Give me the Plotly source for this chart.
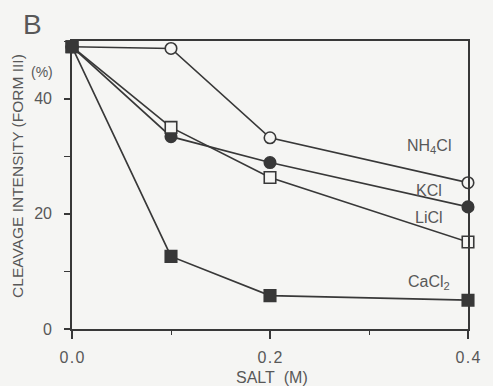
import plotly.graph_objects as go

salt = [0.0, 0.1, 0.2, 0.4]
nh4cl = [49.0, 48.7, 33.2, 25.4]
kcl = [49.0, 33.4, 28.9, 21.2]
licl = [49.0, 35.0, 26.3, 15.1]
cacl2 = [49.0, 12.6, 5.8, 5.0]

x_tickvals = [0.0, 0.2, 0.4]
x_ticktext = ["0\u200a.\u200a0", "0\u200a.\u200a2", "0\u200a.\u200a4"]
y_tickvals = [0, 20, 40]
y_ticktext = ["0", "20", "40"]

ink = "#383838"
txt = "#585858"
bg = "#f5f5f3"

series = [
    ("NH4Cl", nh4cl, "circle", bg),
    ("KCl", kcl, "circle", ink),
    ("LiCl", licl, "square", bg),
    ("CaCl2", cacl2, "square", ink),
]

fig = go.Figure()
for name, vals, sym, fill in series:
    fig.add_trace(go.Scatter(
        x=salt, y=vals, mode="lines+markers", name=name,
        line=dict(color=ink, width=1.7),
        marker=dict(symbol=sym, size=11.5, color=fill,
                    line=dict(color=ink, width=1.6)),
        showlegend=False, cliponaxis=False,
    ))

font = dict(family="Liberation Sans, Arial, sans-serif", color=txt, size=16)

fig.update_layout(
    width=493, height=386,
    margin=dict(l=72, r=17, t=41, b=57),
    paper_bgcolor=bg, plot_bgcolor=bg,
    font=font,
    xaxis=dict(range=[0, 0.4], tickvals=x_tickvals, ticktext=x_ticktext,
               ticks="outside", ticklen=8, tickwidth=1.5, tickcolor=ink,
               showline=True, linecolor=ink, linewidth=1.7, mirror=True,
               showgrid=False, zeroline=False, ticklabelstandoff=5,
               minor=dict(tickmode="linear", tick0=0, dtick=0.1, ticks="outside",
                          ticklen=4, tickwidth=1.2, tickcolor=ink),
               tickfont=dict(size=16)),
    yaxis=dict(range=[0, 50], tickvals=y_tickvals, ticktext=y_ticktext,
               ticks="outside", ticklen=6, tickwidth=1.5, tickcolor=ink,
               showline=True, linecolor=ink, linewidth=1.7, mirror=True,
               showgrid=False, zeroline=False, ticklabelstandoff=9,
               minor=dict(tickmode="linear", tick0=0, dtick=10, ticks="outside",
                          ticklen=6, tickwidth=1.2, tickcolor=ink),
               tickfont=dict(size=16)),
)

annots = [
    (0.4, 31.6, "NH<sub>4</sub>Cl"),
    (0.4, 24.0, "KCl"),
    (0.4, 19.4, "LiCl"),
    (0.4, 8.0, "CaCl<sub>2</sub>"),
]
for x, y, t in annots:
    fig.add_annotation(x=x, y=y, text=t, showarrow=False, xanchor="center",
                       yanchor="middle", xshift=-39, font=dict(size=16, color=txt))

# axis titles
fig.add_annotation(xref="paper", yref="paper", x=0.505, y=-0.170,
                   text="SALT\u00a0 (M)", showarrow=False, xanchor="center",
                   yanchor="middle", font=dict(size=16, color=txt))
fig.add_annotation(xref="paper", yref="y", x=-0.136, y=26.6,
                   text="CLEAVAGE INTENSITY (FORM III)", textangle=-90,
                   showarrow=False, xanchor="center", yanchor="middle",
                   font=dict(size=15.5, color=txt))

fig.add_annotation(xref="paper", yref="paper", x=-0.129, y=1.056, text="B",
                   showarrow=False, xanchor="left", yanchor="middle",
                   font=dict(size=28, color=txt))
fig.add_annotation(xref="paper", yref="y", x=-0.042, y=44.7, text="(%)",
                   showarrow=False, xanchor="right", yanchor="middle",
                   font=dict(size=14, color=txt))

fig.write_html("out.html")
